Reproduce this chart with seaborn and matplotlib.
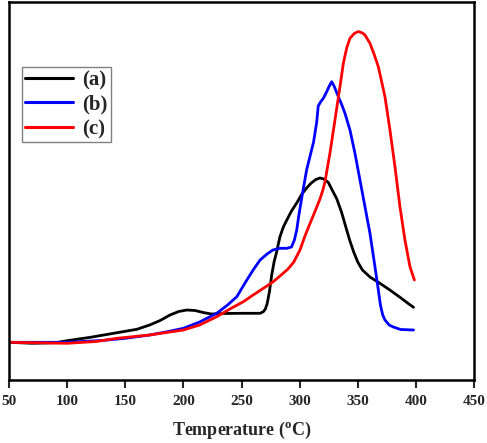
import numpy as np
import pandas as pd
import matplotlib
matplotlib.use("Agg")
import matplotlib.pyplot as plt
import seaborn as sns

# Curve (a) - black
x_a = [50, 70, 90, 100, 120, 140, 160, 171, 180, 188.5, 196, 203, 210, 217, 224, 235, 250, 262, 266,
       268.8, 270.5, 272, 274, 276, 278, 280.2, 283, 286, 289, 293, 297.5, 302, 306, 310, 314, 317.5,
       321, 324.7, 328, 332, 336, 340, 343, 346.5, 350, 354, 360.5, 368, 377, 386, 394, 398]
y_a = [37.7, 36.7, 37.3, 39.3, 42.7, 46.7, 50.7, 55, 59.5, 65, 68.5, 70, 69.5, 67.5, 66, 66.5, 66.7, 66.7, 66.7,
       68.3, 71, 76, 88, 105, 118, 128, 143, 153, 160, 169, 177, 186, 192, 197, 200.5, 202,
       201, 197.5, 190, 181, 168, 152, 140, 128, 118, 110, 103, 97.5, 90.5, 83, 76, 72.7]

# Curve (b) - blue
x_b = [50, 100, 130, 150, 171, 185, 200, 214, 228.7, 238, 246, 253, 260, 266, 272, 277, 283, 289, 293,
       295.5, 297.5, 299.5, 301.8, 303, 306, 309, 312, 314.7, 316, 318, 320.4, 323.3, 325.5, 327.6, 330,
       333.3, 336, 339, 343.3, 347.6, 351.9, 356.2, 360.5, 364.8, 367.7, 369.5, 371.5, 373.4, 377,
       380.6, 387, 398]
y_b = [37.7, 37.7, 39.5, 41.7, 45, 48, 51.7, 58, 66.7, 75, 83.3, 97, 110, 120, 126, 130, 131.7, 131.7, 133,
       140, 150, 166, 182, 190, 210, 224, 238, 258, 274, 278, 281.7, 288.3, 294, 298.3, 293,
       283.3, 276, 266.7, 250, 226.7, 200, 173.3, 146.7, 113.3, 90, 75, 65, 60, 55,
       53, 50.5, 50]

# Curve (c) - red
x_c = [50, 100, 125, 143, 171, 200, 214, 228.7, 240, 251.6, 260, 268.8, 277, 283.1, 290, 295, 300.3,
       304.6, 309, 313, 317.5, 320, 321.8, 324, 326.1, 330.4, 334.7, 337.6, 340.5, 343.3, 347, 350.5,
       354, 356.2, 360.5, 364, 367.7, 373.4, 377.7, 382, 386.3, 390.6, 394.9, 398.7]
y_c = [37.7, 36.7, 38.5, 41.7, 45, 50, 55, 63.3, 71, 78.3, 85, 91.7, 98, 104, 111, 118, 130,
       144, 156.7, 168, 181, 190, 198, 213, 227, 260, 293.3, 316.7, 332, 341.7, 346.5, 348.5,
       347, 345, 336.7, 326, 313.3, 283.3, 250, 213.3, 173.3, 140, 113.3, 100]

labels = ["(a)", "(b)", "(c)"]
colors = ["#000000", "#0000ff", "#ff0000"]
x_ticks = [50, 100, 150, 200, 250, 300, 350, 400, 450]

df = pd.concat([
    pd.DataFrame({"T": x_a, "y": y_a, "s": labels[0]}),
    pd.DataFrame({"T": x_b, "y": y_b, "s": labels[1]}),
    pd.DataFrame({"T": x_c, "y": y_c, "s": labels[2]}),
], ignore_index=True)

sns.set_style("ticks")
plt.rcParams['font.family'] = ['Liberation Serif', 'DejaVu Serif']

fig = plt.figure(figsize=(4.87, 4.43), dpi=100)
ax = fig.add_axes([9/487, 63/443, 465/487, 378/443])

sns.lineplot(data=df, x="T", y="y", hue="s", palette=dict(zip(labels, colors)),
             linewidth=2.0, ax=ax, sort=False, legend=True)

ax.set_xlim(50, 450)
ax.set_ylim(0, 378)
ax.set_xticks(x_ticks)
ax.set_xticklabels([str(t) for t in x_ticks], fontsize=11, fontweight='bold')
ax.set_yticks([])
ax.set_ylabel("")
ax.set_xlabel("Temperature ($\\mathregular{^{o}}$C)", fontsize=13, fontweight='bold', labelpad=8)
ax.tick_params(axis='x', direction='out', length=6, width=1.5, pad=5)
for sp in ax.spines.values():
    sp.set_visible(True)
    sp.set_color('black')
    sp.set_linewidth(1.8)

handles, lbls = ax.get_legend_handles_labels()
leg = ax.legend(handles, lbls, loc='upper left', bbox_to_anchor=(0.028, 0.828),
                prop={'family': 'Liberation Serif', 'weight': 'bold', 'size': 15},
                frameon=True, fancybox=False, edgecolor='#808080', framealpha=1,
                handlelength=2.3, handletextpad=0.45, borderpad=0.15, labelspacing=0.22,
                borderaxespad=0)
leg.get_frame().set_linewidth(1.0)
for h in leg.get_lines():
    h.set_linewidth(2.2)

fig.savefig("out.png", dpi=100)
